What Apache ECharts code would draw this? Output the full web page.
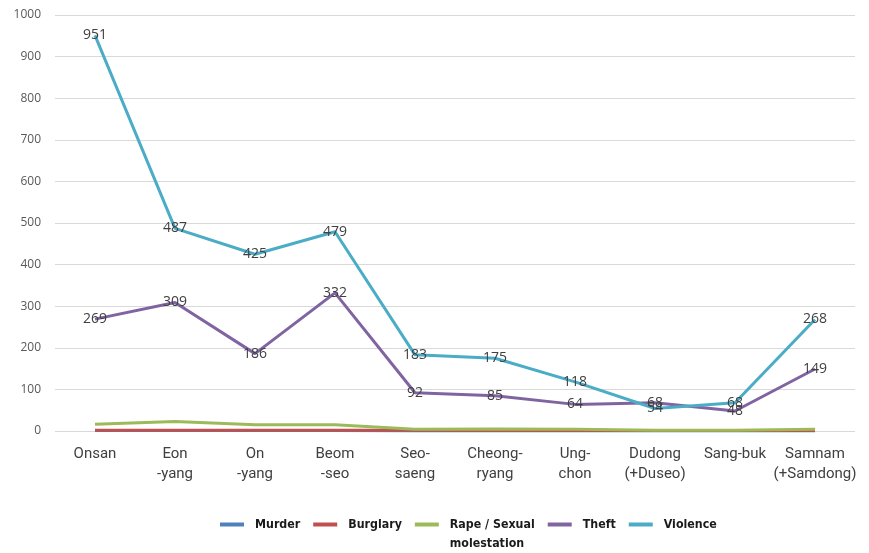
<!DOCTYPE html>
<html><head><meta charset="utf-8">
<script src="https://cdn.jsdelivr.net/npm/echarts@6/dist/echarts.min.js"></script>
<style>html,body{margin:0;padding:0;background:#fff}#c{width:869px;height:553px}</style>
</head><body><div id="c"></div>
<script>
const categories = ['Onsan','Eon\n-yang','On\n-yang','Beom\n-seo','Seo-\nsaeng','Cheong-\nryang','Ung-\nchon','Dudong\n(+Duseo)','Sang-buk','Samnam\n(+Samdong)'];
const murder   = [1, 1, 1, 1, 0, 0, 0, 0, 0, 0];
const burglary = [2, 2, 2, 2, 2, 1, 1, 1, 1, 1];
const rape     = [16, 23, 15, 15, 4, 5, 4, 2, 2, 4];
const theft    = [269, 309, 186, 332, 92, 85, 64, 68, 48, 149];
const violence = [951, 487, 425, 479, 183, 175, 118, 54, 68, 268];
const yTicks = {min: 0, max: 1000, interval: 100};
const rapeName = 'Rape / Sexual\nmolestation';

const chart = echarts.init(document.getElementById('c'));
const lbl = {show: true, position: [0, 0], align: 'center', verticalAlign: 'middle', color: '#404040', fontSize: 14, fontFamily: 'Open Sans'};
function line(name, data, color, label) {
  return {name, type: 'line', data, symbol: 'circle', symbolSize: 0.1, showSymbol: true,
    lineStyle: {color, width: 3}, itemStyle: {color},
    label: label ? lbl : {show: false}, z: label ? 3 : 2};
}
chart.setOption({
  animation: false,
  grid: {left: 55, right: 14, top: 15, bottom: 122},
  xAxis: {type: 'category', data: categories, boundaryGap: true,
    axisLine: {show: false}, axisTick: {show: false},
    axisLabel: {color: '#404040', fontSize: 15, fontFamily: 'Roboto', lineHeight: 20, margin: 13, interval: 0}},
  yAxis: {type: 'value', min: yTicks.min, max: yTicks.max, interval: yTicks.interval,
    axisLine: {show: false}, axisTick: {show: false},
    axisLabel: {color: '#595959', fontSize: 12, fontFamily: 'Open Sans', margin: 14, formatter: v => String(v)},
    splitLine: {lineStyle: {color: '#d9d9d9', width: 1}}},
  legend: {top: 491, left: 215, itemWidth: 24, itemHeight: 4, itemGap: 13,
    icon: 'rect',
    formatter: n => n === rapeName ? '\n' + n : n,
    textStyle: {color: '#1a1a1a', fontSize: 12.3, lineHeight: 19, fontWeight: 'bold', fontFamily: 'DejaVu Sans Condensed', padding: [0, 0, 0, 6]},
    data: ['Murder', 'Burglary', rapeName, 'Theft', 'Violence']},
  series: [
    line('Murder', murder, '#4f81bd', false),
    line('Burglary', burglary, '#c0504d', false),
    line(rapeName, rape, '#9bbb59', false),
    line('Theft', theft, '#8064a2', true),
    line('Violence', violence, '#4bacc6', true)
  ]
});
</script></body></html>
